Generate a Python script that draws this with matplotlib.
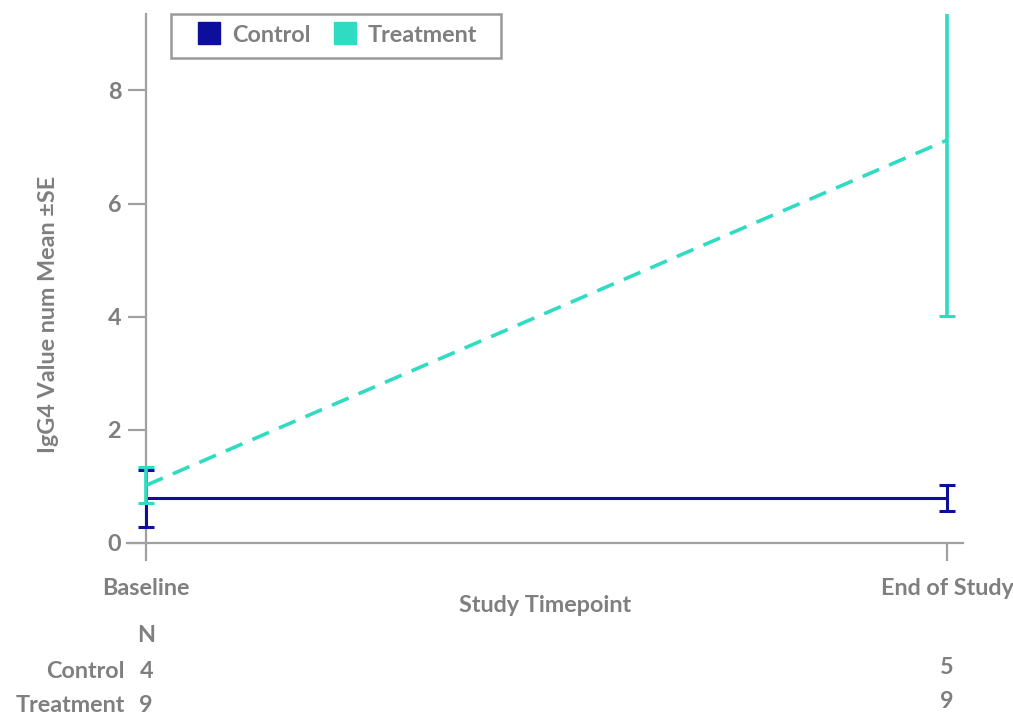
import matplotlib.pyplot as plt
import matplotlib.transforms as mtransforms
from matplotlib.lines import Line2D
from matplotlib.patches import Rectangle

plt.rcParams['font.family'] = ['Lato', 'DejaVu Sans']
plt.rcParams['font.weight'] = 'bold'
plt.rcParams['axes.labelweight'] = 'bold'

timepoints = ['Baseline', 'End of Study']
x = [0, 1]
control_mean = [0.79, 0.79]
control_se = [0.50, 0.23]
treatment_mean = [1.02, 7.12]
treatment_se = [0.32, 3.11]
n_control = [4, 5]
n_treatment = [9, 9]

c_ctrl = '#0e0e9c'
c_trt = '#2fdcc2'
grey = '#7f7f7f'
fs = 16.8

fig = plt.figure(figsize=(10.13, 7.15), dpi=100)
ax = fig.add_axes([0.1254, 0.2406, 0.8252, 0.7398])

ax.errorbar(x, control_mean, yerr=control_se, color=c_ctrl, lw=2.2,
            elinewidth=2.2, capsize=6, capthick=2.2, zorder=3)
ax.errorbar(x, treatment_mean, yerr=treatment_se, color=c_trt, lw=2.6,
            ls=(0, (5, 3)), elinewidth=2.6, capsize=6, capthick=2.2, zorder=4)

ax.set_xlim(-0.024, 1.02)
ax.set_ylim(0, 9.35)
ax.set_xticks(x)
ax.set_xticklabels(timepoints)
ax.set_yticks([0, 2, 4, 6, 8])

for s in ['top', 'right']:
    ax.spines[s].set_visible(False)
ax.spines['left'].set_position(('data', 0))
ax.spines['left'].set_color('#a0a0a0')
ax.spines['bottom'].set_color('#a0a0a0')
ax.spines['left'].set_linewidth(1.6)
ax.spines['bottom'].set_linewidth(1.6)
ax.tick_params(axis='both', colors='#a0a0a0', length=13, width=1.6,
               labelcolor=grey, labelsize=fs)
ax.tick_params(axis='x', pad=12)
ax.tick_params(axis='y', pad=5)

ax.set_ylabel('IgG4 Value num Mean ±SE', color=grey, fontsize=fs)
ax.yaxis.set_label_coords(-0.081, 0.433)
ax.set_xlabel('Study Timepoint', color=grey, fontsize=fs, labelpad=-3)

# legend: square markers, frame drawn separately for wider padding
handles = [Line2D([], [], ls='none', marker='s', markersize=16,
                  color=c_ctrl, label='Control'),
           Line2D([], [], ls='none', marker='s', markersize=16,
                  color=c_trt, label='Treatment')]
leg = ax.legend(handles=handles, ncol=2, loc='upper left',
                bbox_to_anchor=(0.0526, 1.0), borderaxespad=0, frameon=False,
                fontsize=fs, handlelength=2.4, handletextpad=-0.25,
                columnspacing=0.3, borderpad=0.45)
for t in leg.get_texts():
    t.set_color(grey)
frame = Rectangle((171 / 1013, 1 - 58 / 715), 330 / 1013, 44 / 715,
                  transform=fig.transFigure, fill=False, edgecolor='#9a9a9a',
                  lw=1.8, zorder=5)
fig.add_artist(frame)

# N table below the axis
tr = mtransforms.blended_transform_factory(ax.transData, fig.transFigure)
fig.text(0, 1 - 636 / 715, 'N', transform=tr, ha='center', va='center',
         color=grey, fontsize=fs)
fig.text(125 / 1013, 1 - 672 / 715, 'Control', ha='right', va='center',
         color=grey, fontsize=fs)
fig.text(125 / 1013, 1 - 706 / 715, 'Treatment', ha='right', va='center',
         color=grey, fontsize=fs)
for xi, nc, nt, yoff in zip(x, n_control, n_treatment, [0, 5]):
    fig.text(xi, 1 - (672 - yoff) / 715, str(nc), transform=tr, ha='center',
             va='center', color=grey, fontsize=fs)
    fig.text(xi, 1 - (706 - yoff) / 715, str(nt), transform=tr, ha='center',
             va='center', color=grey, fontsize=fs)

fig.savefig('out.png', dpi=100)
